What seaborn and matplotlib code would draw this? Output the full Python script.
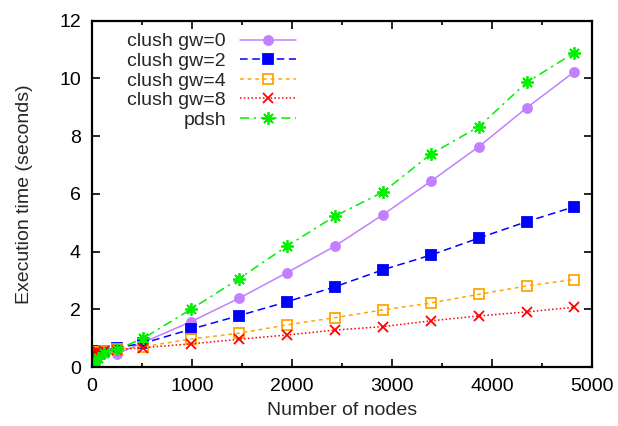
import matplotlib
matplotlib.use("Agg")
import matplotlib.pyplot as plt
import seaborn as sns
import pandas as pd

# data
nodes = [2, 16, 32, 64, 117, 250, 510, 990, 1470, 1950, 2430, 2910, 3390, 3870, 4350, 4820]
clush_gw0 = [0.28, 0.30, 0.33, 0.38, 0.50, 0.45, 0.85, 1.57, 2.38, 3.27, 4.19, 5.28, 6.44, 7.64, 8.99, 10.22]
clush_gw2 = [0.50, 0.50, 0.52, 0.54, 0.57, 0.67, 0.82, 1.31, 1.78, 2.26, 2.78, 3.37, 3.88, 4.47, 5.04, 5.55]
clush_gw4 = [0.52, 0.50, 0.50, 0.52, 0.55, 0.62, 0.70, 0.97, 1.17, 1.46, 1.71, 1.98, 2.22, 2.52, 2.81, 3.03]
clush_gw8 = [0.50, 0.48, 0.50, 0.52, 0.55, 0.60, 0.67, 0.80, 0.96, 1.11, 1.28, 1.40, 1.60, 1.77, 1.91, 2.07]
pdsh = [0.10, 0.15, 0.22, 0.30, 0.50, 0.61, 0.99, 2.00, 3.06, 4.19, 5.23, 6.06, 7.38, 8.33, 9.87, 10.88]

series = [
    ("clush gw=0", clush_gw0),
    ("clush gw=2", clush_gw2),
    ("clush gw=4", clush_gw4),
    ("clush gw=8", clush_gw8),
    ("pdsh", pdsh),
]

# gnuplot-like look per series
styles = {
    "clush gw=0": dict(color="#c080ff", linestyle="-", marker="o", ms=6.5, mfc="#c080ff"),
    "clush gw=2": dict(color="#0000ff", linestyle=(0, (5, 3)), marker="s", ms=7, mfc="#0000ff"),
    "clush gw=4": dict(color="#ffa500", linestyle=(0, (2.5, 2.5)), marker="s", ms=7, mfc="none"),
    "clush gw=8": dict(color="#ff0000", linestyle=(0, (1, 1.5)), marker="x", ms=7, mfc="none"),
    "pdsh": dict(color="#00ee00", linestyle=(0, (6, 3, 1.5, 3)), marker=(8, 2, 0), ms=9, mfc="none"),
}

sns.set_style("ticks")
plt.rcParams["font.family"] = ["Liberation Sans", "DejaVu Sans"]
plt.rcParams["font.size"] = 14

fig = plt.figure(figsize=(6.18, 4.26), dpi=100)
ax = fig.add_axes([92 / 618, 59 / 426, 500 / 618, 346.3 / 426])

for name, values in series:
    df = pd.DataFrame({"nodes": nodes, "time": values})
    st = styles[name]
    sns.lineplot(
        data=df, x="nodes", y="time", ax=ax, label=name,
        color=st["color"], linestyle=st["linestyle"], linewidth=1.1,
        marker=st["marker"], markersize=st["ms"], markerfacecolor=st["mfc"],
        markeredgecolor=st["color"], markeredgewidth=1.3,
        errorbar=None, sort=False,
    )

ax.set_xlim(0, 5000)
ax.set_ylim(0, 12)
ax.set_xticks(range(0, 5001, 1000))
ax.set_xticks(range(500, 5000, 1000), minor=True)
ax.set_yticks(range(0, 13, 2))
ax.tick_params(which="both", direction="in", top=True, right=True, colors="black",
               labelsize=14, pad=8, width=1.2)
ax.tick_params(which="major", length=6)
ax.tick_params(which="minor", length=3)
for sp in ax.spines.values():
    sp.set_visible(True)
    sp.set_linewidth(1.6)
    sp.set_color("black")

ax.set_xlabel("Number of nodes", fontsize=14, labelpad=5)
ax.set_ylabel("Execution time (seconds)", fontsize=14, labelpad=19)

ax.legend(loc="upper right", bbox_to_anchor=(0.408, 0.965), frameon=False,
          markerfirst=False, handlelength=2.9, handletextpad=0.7,
          labelspacing=0.1, borderpad=0, borderaxespad=0, fontsize=14)

fig.savefig("out.png", dpi=100)
